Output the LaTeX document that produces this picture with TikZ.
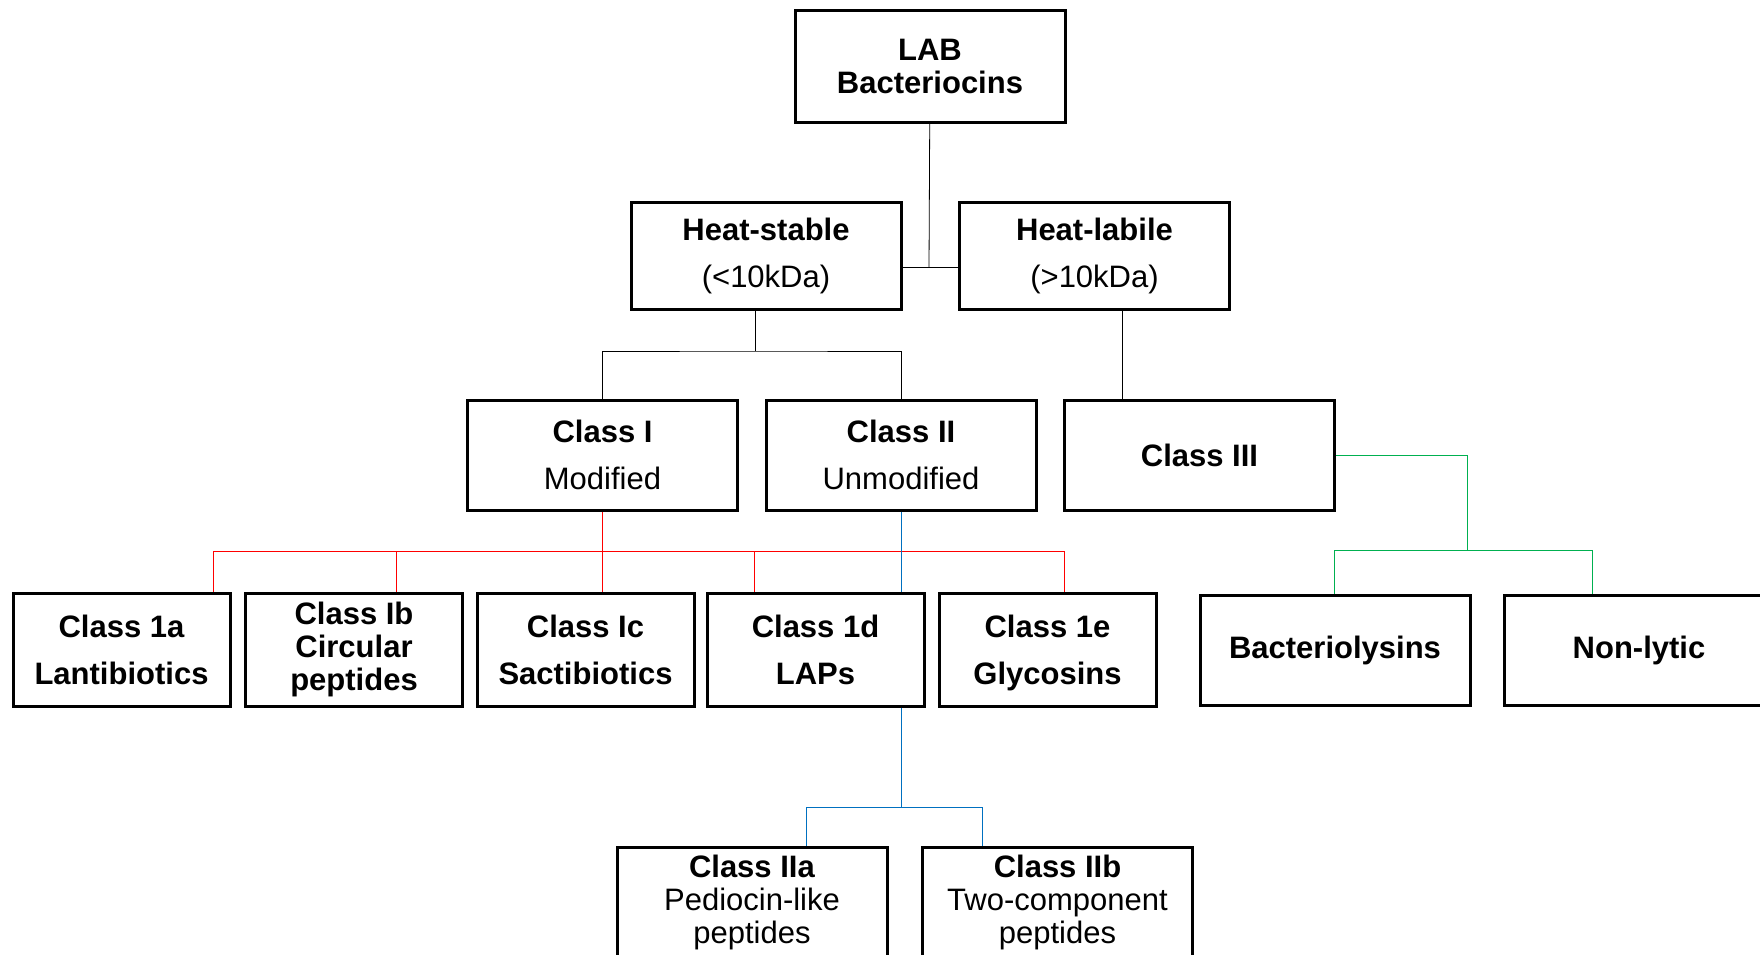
\documentclass[tikz,border=0pt]{standalone}
\usepackage{fontspec}
\setmainfont{Liberation Sans}
\usetikzlibrary{backgrounds}
\definecolor{redlink}{HTML}{FF0000}
\definecolor{bluelink}{HTML}{0070C0}
\definecolor{greenlink}{HTML}{00B050}

\begin{document}
\begin{tikzpicture}[x=0.5pt, y=-0.5pt,
  classbox/.style={draw, line width=1.5pt, fill=white, align=center, inner sep=0pt,
    minimum width=135pt, minimum height=55pt},
  narrowbox/.style={classbox, minimum width=108.5pt, minimum height=56.5pt},
  spaced/.style={font=\fontsize{15.5}{23.5}\selectfont},
  tight/.style={font=\fontsize{15.5}{16.5}\selectfont},
  heavy/.style={execute at begin node=\bfseries},
  link/.style={line width=1.4pt}]
\clip (0,0) rectangle (1760,954);

% TOP
\node[classbox, minimum height=56pt, tight, heavy] (lab) at (930,66) {LAB\\Bacteriocins};
\node[classbox, minimum height=53.5pt, spaced] (hs) at (766,255.5) {\textbf{Heat-stable}\\(<10kDa)};
\node[classbox, minimum height=53.5pt, spaced] (hl) at (1094.5,255.5) {\textbf{Heat-labile}\\(>10kDa)};

% SECOND ROW
\node[classbox, spaced] (c1) at (602.5,455) {\textbf{Class I}\\Modified};
\node[classbox, spaced] (c2) at (901,455) {\textbf{Class II}\\Unmodified};
\node[classbox, spaced, heavy] (c3) at (1199.5,455) {Class III};

% THIRD ROW
\node[narrowbox, spaced, heavy] (c1a) at (121.5,649.5) {Class 1a\\Lantibiotics};
\node[narrowbox, tight, heavy] (c1b) at (354,649.5) {Class Ib\\Circular\\peptides};
\node[narrowbox, spaced, heavy] (c1c) at (585.5,649.5) {Class Ic\\Sactibiotics};
\node[narrowbox, spaced, heavy] (c1d) at (815.5,649.5) {Class 1d\\LAPs};
\node[narrowbox, spaced, heavy, text depth=0pt] (c1e) at (1047.5,649.5) {Class 1e\\Glycosins};
\node[classbox, spaced, heavy] (bac) at (1335,650.5) {Bacteriolysins};
\node[classbox, spaced, heavy] (nonl) at (1639,650.5) {Non-lytic};

% FOURTH ROW
\node[classbox, tight] (c2a) at (752,902) {\textbf{Class IIa}\\Pediocin-like\\peptides};
\node[classbox, tight] (c2b) at (1057.5,902) {\textbf{Class IIb}\\Two-component\\peptides};

\begin{scope}[on background layer, link]
% black links
\coordinate (hj) at (929,267);
\coordinate (sj) at (755,351);
\draw (lab) -- (hj);
\draw (hs.east |- hj) -- (hl.west |- hj);
\draw (hs.south -| sj) -- (sj);
\draw (c1.north) |- (sj) -| (c2.north);
\draw ([xshift=13.75pt]hl.south) -- ([xshift=13.75pt]hl.south |- c3.north);

% red links
\coordinate (rl) at (213,551);
\coordinate (rb) at (396,551);
\coordinate (rd) at (754,551);
\coordinate (rr) at (1064,551);
\draw[redlink] (c1a.north -| rl) |- (rr) -- (c1e.north -| rr);
\draw[redlink] (c1.south) -- (c1.south |- c1c.north);
\draw[redlink] (rb) -- (c1b.north -| rb);
\draw[redlink] (rd) -- (c1d.north -| rd);

% blue links
\coordinate (bj) at (901,807);
\coordinate (bl) at (806,807);
\coordinate (br) at (982,807);
\draw[bluelink] (c2.south) -- (bj);
\draw[bluelink] (c2a.north -| bl) |- (br) -- (c2b.north -| br);

% green links
\coordinate (gj) at (1467,550);
\coordinate (gl) at (1334,550);
\coordinate (gr) at (1592,550);
\draw[greenlink] (c3.east) -| (gj);
\draw[greenlink] (bac.north -| gl) |- (gr) -- (nonl.north -| gr);
\end{scope}
\end{tikzpicture}
\end{document}
